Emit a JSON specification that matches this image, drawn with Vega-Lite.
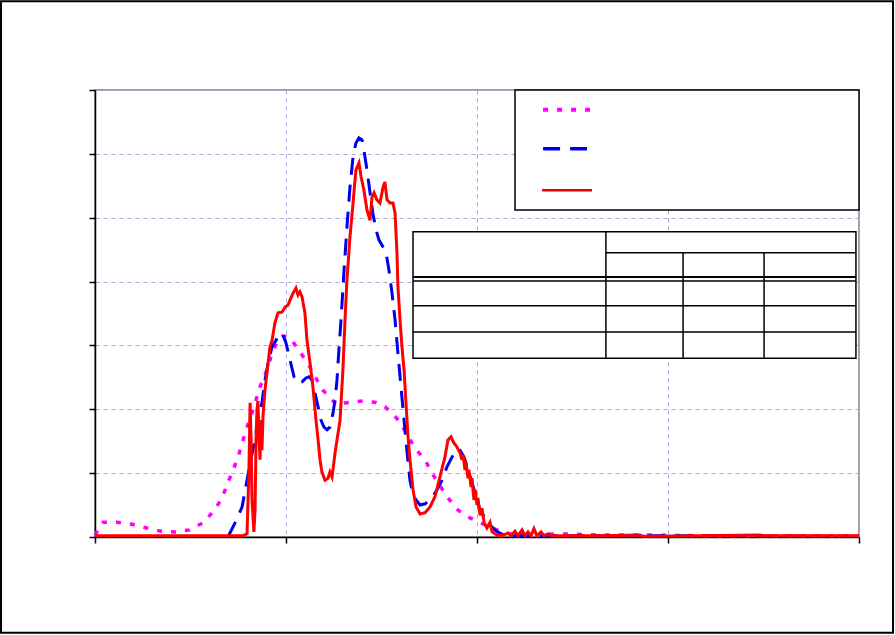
{
  "$schema": "https://vega.github.io/schema/vega-lite/v6.json",
  "width": 764,
  "height": 447,
  "autosize": {"type": "none"},
  "padding": {"left": 95, "top": 90, "right": 36, "bottom": 98},
  "background": "white",
  "config": {
    "view": {"stroke": "#808080", "strokeWidth": 1.5},
    "axis": {
      "labels": false,
      "domainColor": "black",
      "domainWidth": 1.5,
      "tickColor": "black",
      "tickSize": 6,
      "tickWidth": 1.5,
      "grid": true,
      "gridColor": "#a8a8dc",
      "gridDash": [4, 4],
      "gridWidth": 1
    }
  },
  "datasets": {
    "model": [
      {"x":0,"y":0.03},{"x":0.42,"y":0.23},{"x":1.15,"y":0.23},{"x":1.94,"y":0.2},{"x":2.72,"y":0.14},{"x":3.46,"y":0.09},{"x":4.19,"y":0.08},{"x":4.92,"y":0.11},{"x":5.65,"y":0.22},{"x":6.23,"y":0.41},{"x":6.65,"y":0.61},{"x":6.96,"y":0.85},{"x":7.23,"y":1.05},{"x":7.49,"y":1.25},{"x":7.7,"y":1.47},{"x":7.96,"y":1.72},{"x":8.27,"y":1.99},{"x":8.64,"y":2.35},{"x":9.01,"y":2.62},{"x":9.27,"y":2.88},{"x":9.53,"y":3.05},{"x":9.84,"y":3.15},{"x":10.21,"y":3.12},{"x":10.73,"y":2.9},{"x":11.26,"y":2.66},{"x":11.52,"y":2.51},{"x":11.94,"y":2.3},{"x":12.3,"y":2.18},{"x":12.67,"y":2.07},{"x":13.09,"y":2.1},{"x":14.03,"y":2.13},{"x":14.66,"y":2.11},{"x":15.18,"y":2.04},{"x":15.55,"y":1.94},{"x":15.97,"y":1.8},{"x":16.75,"y":1.39},{"x":17.28,"y":1.21},{"x":17.64,"y":1.0},{"x":18.48,"y":0.61},{"x":19.01,"y":0.42},{"x":19.63,"y":0.3},{"x":20.42,"y":0.19},{"x":21.05,"y":0.11},{"x":21.73,"y":0.05},{"x":22.77,"y":0.03},{"x":24.35,"y":0.05},{"x":26.44,"y":0.03},{"x":29.06,"y":0.03},{"x":31.68,"y":0.02},{"x":36.91,"y":0.02},{"x":40,"y":0.02}
    ],
    "simulation": [
      {"x":6.96,"y":0},{"x":7.33,"y":0.22},{"x":7.7,"y":0.47},{"x":7.96,"y":0.89},{"x":8.12,"y":1.16},{"x":8.38,"y":1.52},{"x":8.53,"y":1.83},{"x":8.74,"y":2.1},{"x":8.9,"y":2.46},{"x":9.06,"y":2.72},{"x":9.27,"y":2.98},{"x":9.48,"y":3.08},{"x":9.63,"y":3.19},{"x":9.84,"y":3.16},{"x":10.0,"y":3.04},{"x":10.21,"y":2.77},{"x":10.42,"y":2.51},{"x":10.63,"y":2.41},{"x":10.84,"y":2.43},{"x":11.05,"y":2.49},{"x":11.2,"y":2.51},{"x":11.36,"y":2.46},{"x":11.52,"y":2.25},{"x":11.68,"y":2.04},{"x":11.83,"y":1.83},{"x":11.99,"y":1.72},{"x":12.15,"y":1.68},{"x":12.3,"y":1.72},{"x":12.46,"y":1.94},{"x":12.57,"y":2.15},{"x":12.67,"y":2.46},{"x":12.77,"y":2.93},{"x":12.88,"y":3.4},{"x":13.04,"y":4.18},{"x":13.19,"y":4.85},{"x":13.35,"y":5.48},{"x":13.51,"y":5.95},{"x":13.66,"y":6.17},{"x":13.82,"y":6.25},{"x":13.98,"y":6.22},{"x":14.08,"y":6.06},{"x":14.24,"y":5.75},{"x":14.4,"y":5.39},{"x":14.55,"y":5.07},{"x":14.71,"y":4.81},{"x":14.87,"y":4.65},{"x":15.08,"y":4.54},{"x":15.24,"y":4.45},{"x":15.39,"y":4.18},{"x":15.55,"y":3.82},{"x":15.71,"y":3.4},{"x":15.86,"y":2.88},{"x":16.02,"y":2.35},{"x":16.18,"y":1.83},{"x":16.34,"y":1.32},{"x":16.49,"y":0.89},{"x":16.65,"y":0.66},{"x":16.81,"y":0.58},{"x":17.02,"y":0.5},{"x":17.28,"y":0.52},{"x":17.64,"y":0.61},{"x":17.91,"y":0.74},{"x":18.17,"y":0.89},{"x":18.43,"y":1.1},{"x":18.69,"y":1.25},{"x":18.9,"y":1.36},{"x":19.11,"y":1.36},{"x":19.32,"y":1.25},{"x":19.53,"y":1.05},{"x":19.74,"y":0.85},{"x":19.95,"y":0.63},{"x":20.16,"y":0.42},{"x":20.42,"y":0.3},{"x":20.68,"y":0.19},{"x":20.94,"y":0.11},{"x":21.2,"y":0.06},{"x":21.47,"y":0.02},{"x":23.82,"y":0.02},{"x":26.44,"y":0.02},{"x":31.68,"y":0.02},{"x":40,"y":0.01}
    ],
    "measurement": [
      {"x":0,"y":0.02},{"x":5.5,"y":0.02},{"x":7.75,"y":0.02},{"x":7.96,"y":0.05},{"x":8.06,"y":1.05},{"x":8.12,"y":2.1},{"x":8.17,"y":1.52},{"x":8.22,"y":0.58},{"x":8.32,"y":0.08},{"x":8.38,"y":0.42},{"x":8.43,"y":1.52},{"x":8.48,"y":1.99},{"x":8.53,"y":2.13},{"x":8.59,"y":1.52},{"x":8.64,"y":1.21},{"x":8.69,"y":1.83},{"x":8.74,"y":1.36},{"x":8.8,"y":1.91},{"x":8.9,"y":2.3},{"x":9.06,"y":2.72},{"x":9.16,"y":2.98},{"x":9.27,"y":3.08},{"x":9.42,"y":3.35},{"x":9.58,"y":3.51},{"x":9.79,"y":3.52},{"x":9.95,"y":3.6},{"x":10.1,"y":3.63},{"x":10.21,"y":3.71},{"x":10.37,"y":3.82},{"x":10.52,"y":3.9},{"x":10.63,"y":3.79},{"x":10.73,"y":3.84},{"x":10.84,"y":3.76},{"x":10.99,"y":3.51},{"x":11.1,"y":3.08},{"x":11.26,"y":2.72},{"x":11.41,"y":2.35},{"x":11.57,"y":1.83},{"x":11.68,"y":1.52},{"x":11.78,"y":1.21},{"x":11.88,"y":1.02},{"x":12.04,"y":0.89},{"x":12.2,"y":0.92},{"x":12.3,"y":1.02},{"x":12.41,"y":0.94},{"x":12.57,"y":1.32},{"x":12.67,"y":1.52},{"x":12.83,"y":1.83},{"x":12.98,"y":2.62},{"x":13.09,"y":3.4},{"x":13.19,"y":4.02},{"x":13.35,"y":4.7},{"x":13.51,"y":5.23},{"x":13.66,"y":5.75},{"x":13.82,"y":5.86},{"x":13.93,"y":5.64},{"x":14.08,"y":5.43},{"x":14.24,"y":5.12},{"x":14.4,"y":4.96},{"x":14.5,"y":5.32},{"x":14.61,"y":5.39},{"x":14.76,"y":5.28},{"x":14.92,"y":5.23},{"x":15.08,"y":5.48},{"x":15.18,"y":5.56},{"x":15.29,"y":5.28},{"x":15.45,"y":5.23},{"x":15.6,"y":5.23},{"x":15.71,"y":5.07},{"x":15.81,"y":4.45},{"x":15.86,"y":3.92},{"x":15.97,"y":3.4},{"x":16.07,"y":2.98},{"x":16.18,"y":2.62},{"x":16.28,"y":2.1},{"x":16.39,"y":1.57},{"x":16.49,"y":1.21},{"x":16.65,"y":0.74},{"x":16.81,"y":0.47},{"x":17.02,"y":0.36},{"x":17.28,"y":0.38},{"x":17.54,"y":0.47},{"x":17.8,"y":0.63},{"x":18.06,"y":0.94},{"x":18.32,"y":1.25},{"x":18.48,"y":1.52},{"x":18.64,"y":1.57},{"x":18.8,"y":1.47},{"x":18.95,"y":1.41},{"x":19.11,"y":1.32},{"x":19.21,"y":1.21},{"x":19.27,"y":1.29},{"x":19.37,"y":1.05},{"x":19.42,"y":1.17},{"x":19.53,"y":0.92},{"x":19.58,"y":1.05},{"x":19.69,"y":0.78},{"x":19.74,"y":0.92},{"x":19.84,"y":0.58},{"x":19.9,"y":0.74},{"x":20.0,"y":0.5},{"x":20.05,"y":0.61},{"x":20.16,"y":0.34},{"x":20.26,"y":0.45},{"x":20.37,"y":0.23},{"x":20.52,"y":0.14},{"x":20.68,"y":0.23},{"x":20.79,"y":0.08},{"x":21.05,"y":0.03},{"x":21.31,"y":0.02},{"x":21.62,"y":0.06},{"x":21.78,"y":0.02},{"x":21.99,"y":0.09},{"x":22.15,"y":0.02},{"x":22.36,"y":0.11},{"x":22.51,"y":0.02},{"x":22.67,"y":0.08},{"x":22.83,"y":0.02},{"x":22.98,"y":0.13},{"x":23.14,"y":0.02},{"x":23.35,"y":0.08},{"x":23.51,"y":0.02},{"x":23.72,"y":0.05},{"x":23.93,"y":0.02},{"x":26.44,"y":0.02},{"x":28.53,"y":0.03},{"x":28.69,"y":0.01},{"x":31.68,"y":0.02},{"x":34.82,"y":0.03},{"x":34.97,"y":0.02},{"x":40,"y":0.02}
    ]
  },
  "layer": [
    {
      "data": {"name": "model"},
      "mark": {"type": "line", "color": "#ff00ff", "strokeWidth": 3.5, "strokeDash": [5, 9], "strokeCap": "butt"},
      "encoding": {
        "x": {"field": "x", "type": "quantitative", "title": null, "scale": {"domain": [0, 40], "nice": false, "zero": false},
              "axis": {"values": [0, 10, 20, 30, 40], "title": null, "labels": false}},
        "y": {"field": "y", "type": "quantitative", "title": null, "scale": {"domain": [0, 7], "nice": false},
              "axis": {"values": [0, 1, 2, 3, 4, 5, 6, 7], "title": null, "labels": false}}
      }
    },
    {
      "data": {"name": "simulation"},
      "mark": {"type": "line", "color": "#0000f0", "strokeWidth": 3, "strokeDash": [17, 10], "strokeCap": "butt"},
      "encoding": {
        "x": {"field": "x", "type": "quantitative", "title": null},
        "y": {"field": "y", "type": "quantitative", "title": null}
      }
    },
    {
      "data": {"name": "measurement"},
      "mark": {"type": "line", "color": "#ff0000", "strokeWidth": 3},
      "encoding": {
        "x": {"field": "x", "type": "quantitative", "title": null},
        "y": {"field": "y", "type": "quantitative", "title": null}
      }
    },
    {
      "data": {"values": [{}]},
      "mark": {"type": "rect", "fill": "white", "stroke": "black", "strokeWidth": 1.5},
      "encoding": {
        "x": {"datum": 21.99, "type": "quantitative", "title": null},
        "x2": {"datum": 40},
        "y": {"datum": 7, "type": "quantitative", "title": null},
        "y2": {"datum": 5.12}
      }
    },
    {
      "data": {"values": [{}]},
      "mark": {"type": "rule", "color": "#ff00ff", "strokeWidth": 4, "strokeDash": [5, 9], "strokeCap": "butt"},
      "encoding": {
        "x": {"datum": 23.46, "type": "quantitative", "title": null},
        "x2": {"datum": 26.1},
        "y": {"datum": 6.69, "type": "quantitative", "title": null}
      }
    },
    {
      "data": {"values": [{}]},
      "mark": {"type": "rule", "color": "#0000f0", "strokeWidth": 3.5, "strokeDash": [17, 10], "strokeCap": "butt"},
      "encoding": {
        "x": {"datum": 23.46, "type": "quantitative", "title": null},
        "x2": {"datum": 25.76},
        "y": {"datum": 6.08, "type": "quantitative", "title": null}
      }
    },
    {
      "data": {"values": [{}]},
      "mark": {"type": "rule", "color": "#e00000", "strokeWidth": 2.5},
      "encoding": {
        "x": {"datum": 23.41, "type": "quantitative", "title": null},
        "x2": {"datum": 26.02},
        "y": {"datum": 5.43, "type": "quantitative", "title": null}
      }
    },
    {
      "data": {"values": [{}]},
      "mark": {"type": "rect", "fill": "white", "stroke": "black", "strokeWidth": 1.5},
      "encoding": {
        "x": {"datum": 16.65, "type": "quantitative", "title": null},
        "x2": {"datum": 39.84},
        "y": {"datum": 4.78, "type": "quantitative", "title": null},
        "y2": {"datum": 2.8}
      }
    },
    {
      "data": {"values": [{}]},
      "mark": {"type": "rule", "color": "black", "strokeWidth": 1.5},
      "encoding": {
        "x": {"datum": 26.75, "type": "quantitative", "title": null},
        "y": {"datum": 4.78, "type": "quantitative", "title": null},
        "y2": {"datum": 2.8}
      }
    },
    {
      "data": {"values": [{}]},
      "mark": {"type": "rule", "color": "black", "strokeWidth": 1.5},
      "encoding": {
        "x": {"datum": 26.75, "type": "quantitative", "title": null},
        "x2": {"datum": 39.84},
        "y": {"datum": 4.45, "type": "quantitative", "title": null}
      }
    },
    {
      "data": {"values": [{}]},
      "mark": {"type": "rule", "color": "black", "strokeWidth": 1.5},
      "encoding": {
        "x": {"datum": 30.79, "type": "quantitative", "title": null},
        "y": {"datum": 4.45, "type": "quantitative", "title": null},
        "y2": {"datum": 2.8}
      }
    },
    {
      "data": {"values": [{}]},
      "mark": {"type": "rule", "color": "black", "strokeWidth": 1.5},
      "encoding": {
        "x": {"datum": 35.03, "type": "quantitative", "title": null},
        "y": {"datum": 4.45, "type": "quantitative", "title": null},
        "y2": {"datum": 2.8}
      }
    },
    {
      "data": {"values": [{}]},
      "mark": {"type": "rule", "color": "black", "strokeWidth": 2},
      "encoding": {
        "x": {"datum": 16.65, "type": "quantitative", "title": null},
        "x2": {"datum": 39.84},
        "y": {"datum": 4.07, "type": "quantitative", "title": null}
      }
    },
    {
      "data": {"values": [{}]},
      "mark": {"type": "rule", "color": "black", "strokeWidth": 1.5},
      "encoding": {
        "x": {"datum": 16.65, "type": "quantitative", "title": null},
        "x2": {"datum": 39.84},
        "y": {"datum": 4.01, "type": "quantitative", "title": null}
      }
    },
    {
      "data": {"values": [{}]},
      "mark": {"type": "rule", "color": "black", "strokeWidth": 1.5},
      "encoding": {
        "x": {"datum": 16.65, "type": "quantitative", "title": null},
        "x2": {"datum": 39.84},
        "y": {"datum": 3.62, "type": "quantitative", "title": null}
      }
    },
    {
      "data": {"values": [{}]},
      "mark": {"type": "rule", "color": "black", "strokeWidth": 1.5},
      "encoding": {
        "x": {"datum": 16.65, "type": "quantitative", "title": null},
        "x2": {"datum": 39.84},
        "y": {"datum": 3.21, "type": "quantitative", "title": null}
      }
    },
    {
      "data": {"values": [{}]},
      "mark": {"type": "rect", "fill": null, "stroke": "black", "strokeWidth": 2, "clip": false},
      "encoding": {
        "x": {"datum": -4.92, "type": "quantitative", "title": null},
        "x2": {"datum": 41.78},
        "y": {"datum": 8.39, "type": "quantitative", "title": null},
        "y2": {"datum": -1.5}
      }
    }
  ]
}
